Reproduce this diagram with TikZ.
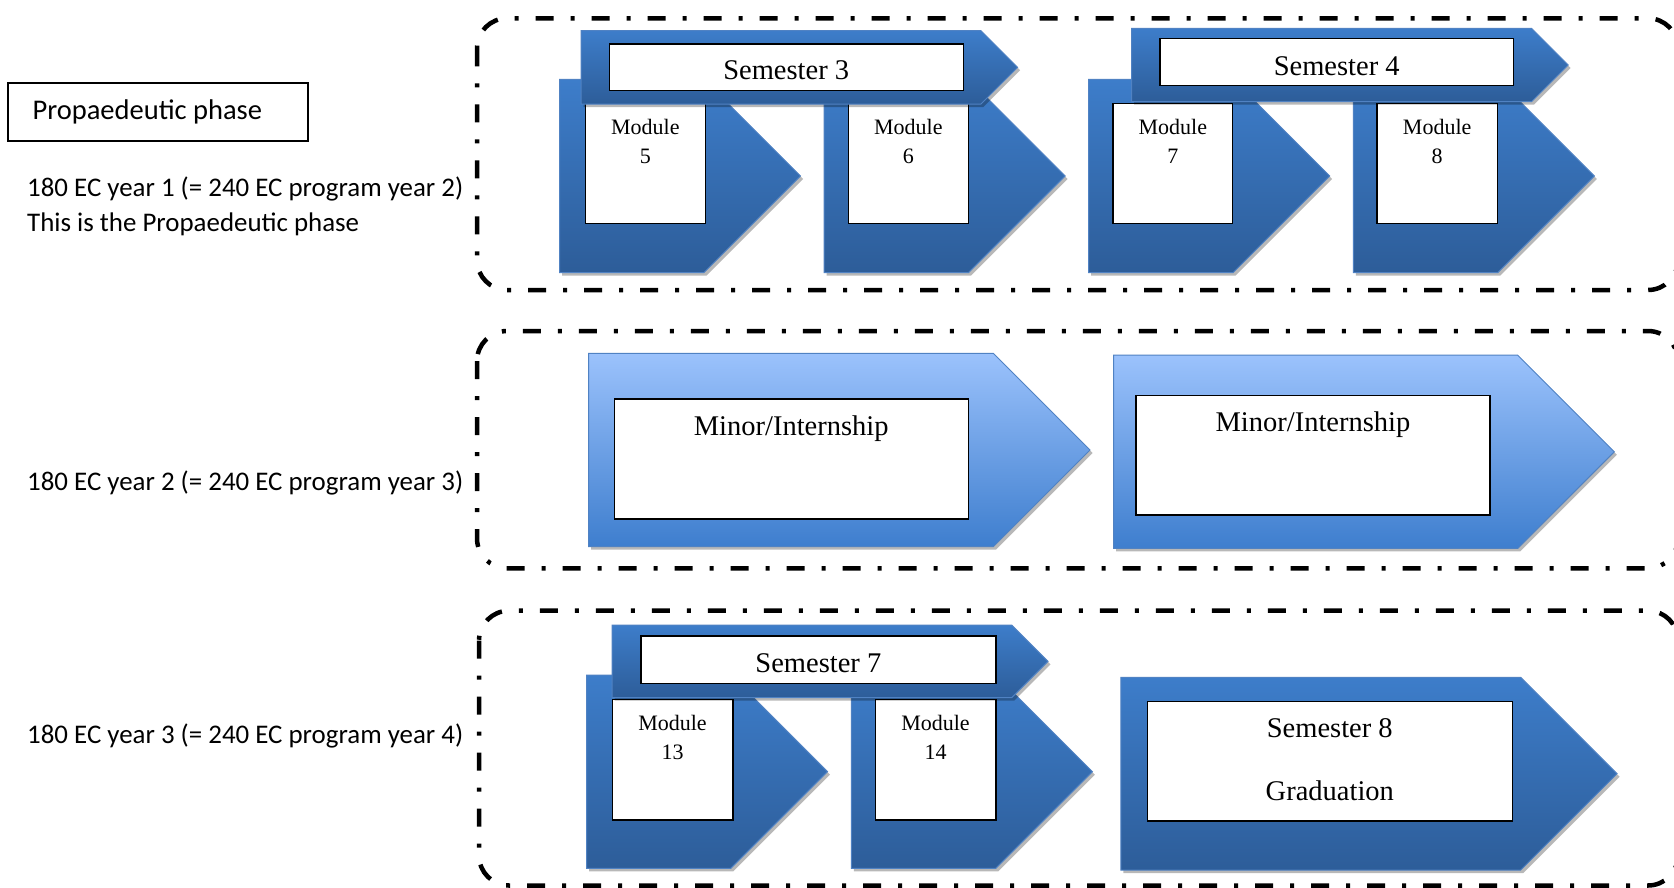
\documentclass[tikz,border=0pt]{standalone}
\usepackage{fontspec}
\setmainfont{Liberation Serif}
\newfontfamily\calib{Carlito}
\usetikzlibrary{shadows}
\definecolor{bluetop}{RGB}{61,125,202}
\definecolor{bluebot}{RGB}{45,93,153}
\definecolor{ltop}{RGB}{155,194,252}
\definecolor{lbot}{RGB}{62,126,206}
\definecolor{blueline}{RGB}{80,130,195}
\newcommand\pentpath[5]{%
 \pgfmathsetmacro\pxa{#1+#3-#4/2}%
 \pgfmathsetmacro\pxb{#1+#3}%
 \pgfmathsetmacro\pyc{#2+#4/2}%
 \pgfmathsetmacro\pyd{#2+#4}%
 \path[#5] (#1,#2) -- (\pxa,#2) -- (\pxb,\pyc) -- (\pxa,\pyd) -- (#1,\pyd) -- cycle;}
\tikzset{
 grp/.style={draw=black, line width=4.5pt, dash pattern=on 18pt off 17pt on 4pt off 17pt, rounded corners=30pt},
 shad/.style={drop shadow={shadow xshift=2.5pt, shadow yshift=-3pt, opacity=0.28, fill=black}},
 darkshape/.style={shad, top color=bluetop, bottom color=bluebot, draw=blueline, line width=1pt},
 lightshape/.style={shad, top color=ltop, bottom color=lbot, draw=blueline, line width=1pt},
 wbox/.style={draw=black, fill=white, line width=1.4pt},
 big/.style={font=\fontsize{28.5}{34}\selectfont, inner sep=0pt, anchor=base},
 modtxt/.style={font=\fontsize{22}{29}\selectfont, inner sep=0pt, anchor=base},
 side/.style={font=\calib\fontsize{26.9}{32}\selectfont, anchor=base west, inner sep=0pt},
 propbox/.style={draw=black, line width=1.8pt, anchor=north west, font=\calib\fontsize{28.5}{34}\selectfont,
   inner xsep=24.4pt, inner ysep=0pt, text width=250.6pt, align=flush left, minimum height=58.3pt}
}
\begin{document}
\begin{tikzpicture}[x=1pt,y=-1pt]
\useasboundingbox (0,0) rectangle (1674,887);
\fill[white] (0,0) rectangle (1674,887);

% left texts
\node[propbox] (prop) at (7.3,81.7) {Propaedeutic phase};
\node[side] (y1a) at (27,196) {180 EC year 1 (= 240 EC program year 2)};
\node[side] (y1b) at (27,231) {This is the Propaedeutic phase};
\node[side] (y2) at (27,490) {180 EC year 2 (= 240 EC program year 3)};
\node[side] (y3) at (27,743) {180 EC year 3 (= 240 EC program year 4)};

% group frames
\draw[grp] (477,18.3) rectangle (1678,290);
\draw[grp] (477,331) rectangle (1678,568.3);
\draw[grp] (479,610.7) rectangle (1678,885.5);

% ---- row 1 ----
\pentpath{559.5}{79.3}{241}{193.4}{darkshape}
\pentpath{824.1}{79.3}{241}{193.4}{darkshape}
\pentpath{1088.7}{79.3}{241}{193.4}{darkshape}
\pentpath{1353.3}{79.3}{241}{193.4}{darkshape}
\path[wbox] (585.5,100) rectangle (705.3,223.3);
\path[wbox] (848.4,100) rectangle (968.2,223.3);
\path[wbox] (1112.9,103.3) rectangle (1232.7,223.3);
\path[wbox] (1377.1,103.3) rectangle (1497.3,223.3);
\pentpath{581}{30.7}{436.6}{73.3}{darkshape}
\path[wbox] (609.2,44) rectangle (963.2,90.7);
\pentpath{1131.6}{28.3}{436.6}{73.4}{darkshape}
\path[wbox] (1159.8,38.3) rectangle (1513.6,85.3);
\node[big] (s3) at (786.2,79.3) {Semester 3};
\node[big] (s4) at (1336.7,75) {Semester 4};
\node[modtxt] (m5a) at (645.4,134) {Module};
\node[modtxt] (m5b) at (645.4,163.3) {5};
\node[modtxt] (m6a) at (908.3,134) {Module};
\node[modtxt] (m6b) at (908.3,163.3) {6};
\node[modtxt] (m7a) at (1172.8,134) {Module};
\node[modtxt] (m7b) at (1172.8,163.3) {7};
\node[modtxt] (m8a) at (1437.2,134) {Module};
\node[modtxt] (m8b) at (1437.2,163.3) {8};

% ---- row 2 ----
\pentpath{588.6}{353.3}{501.4}{193.4}{lightshape}
\path[wbox] (614.2,399) rectangle (968.2,519);
\pentpath{1113.5}{355.2}{500.8}{193.2}{lightshape}
\path[wbox] (1136,395.7) rectangle (1490,515);
\node[big] (mi1) at (791.2,435) {Minor/Internship};
\node[big] (mi2) at (1313,431) {Minor/Internship};

% ---- row 3 ----
\pentpath{586.5}{675}{241}{193.3}{darkshape}
\pentpath{851.4}{675}{241}{193.3}{darkshape}
\path[wbox] (612.2,699.3) rectangle (732.8,820);
\path[wbox] (875.2,699.3) rectangle (995.8,820);
\pentpath{612.2}{625}{435.8}{72.7}{darkshape}
\path[wbox] (641,636) rectangle (995.8,683.3);
\node[big] (s7) at (818.4,672.3) {Semester 7};
\node[modtxt] (m13a) at (672.5,730) {Module};
\node[modtxt] (m13b) at (672.5,759.3) {13};
\node[modtxt] (m14a) at (935.5,730) {Module};
\node[modtxt] (m14b) at (935.5,759.3) {14};
\pentpath{1120.9}{677.3}{496.2}{192.7}{darkshape}
\path[wbox] (1147.4,701.7) rectangle (1512.2,821);
\node[big] (s8) at (1329.8,737) {Semester 8};
\node[big] (gr) at (1329.8,800) {Graduation};
\end{tikzpicture}
\end{document}
